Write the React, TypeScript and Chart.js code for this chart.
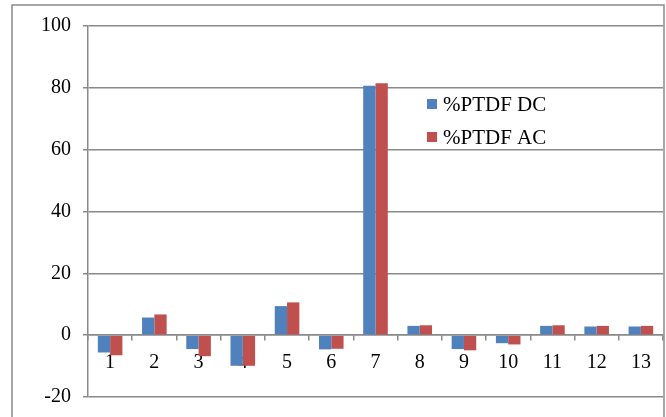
import React, { useEffect, useRef } from "react";
import { Chart, registerables } from "chart.js";

Chart.register(...registerables);

const categories = ["1", "2", "3", "4", "5", "6", "7", "8", "9", "10", "11", "12", "13"];
const ptdfDC = [-5.6, 5.7, -4.5, -9.9, 9.4, -4.6, 80.7, 3.0, -4.5, -2.6, 3.0, 2.8, 2.8];
const ptdfAC = [-6.5, 6.7, -6.8, -9.9, 10.6, -4.4, 81.5, 3.2, -4.9, -3.0, 3.2, 3.0, 3.0];
const seriesLabels = ["%PTDF DC", "%PTDF AC"];
const seriesColors = ["#4F81BD", "#C0504D"];

const FONT = "'Liberation Serif', 'Times New Roman', serif";

// Outer frame plus a legend drawn inside the plot area
const framePlugin = {
  id: "frameAndLegend",
  afterDraw(chart: any) {
    const ctx = chart.ctx as CanvasRenderingContext2D;
    ctx.save();
    ctx.strokeStyle = "#8a8a8a";
    ctx.lineWidth = 1.5;
    ctx.strokeRect(12, 5, 652, 430);

    ctx.font = `21px ${FONT}`;
    ctx.textBaseline = "middle";
    ctx.textAlign = "left";
    const rows = [104, 137];
    chart.data.datasets.forEach((ds: any, i: number) => {
      const y = rows[i];
      ctx.fillStyle = ds.backgroundColor;
      ctx.fillRect(427, y - 5, 10, 10);
      ctx.fillStyle = "#000";
      ctx.fillText(ds.label, 443, y + 1);
    });
    ctx.restore();
  },
};

export default function App() {
  const ref = useRef<HTMLCanvasElement>(null);

  useEffect(() => {
    if (!ref.current) return;
    const chart = new Chart(ref.current, {
      type: "bar",
      data: {
        labels: categories,
        datasets: [
          { label: seriesLabels[0], data: ptdfDC, backgroundColor: seriesColors[0] },
          { label: seriesLabels[1], data: ptdfAC, backgroundColor: seriesColors[1] },
        ],
      },
      options: {
        animation: false,
        responsive: false,
        maintainAspectRatio: false,
        layout: { autoPadding: false, padding: { left: 0, top: 26, right: 3, bottom: 20 } },
        datasets: {
          bar: { categoryPercentage: 0.556, barPercentage: 1.0, borderWidth: 0 },
        },
        plugins: {
          legend: { display: false },
          tooltip: { enabled: false },
        },
        scales: {
          x: {
            position: { y: 0 } as any,
            offset: true,
            z: 1,
            grid: {
              offset: true,
              drawOnChartArea: false,
              drawTicks: true,
              tickLength: 5,
              color: "#8a8a8a",
              lineWidth: 1.5,
            },
            border: { display: true, color: "#8a8a8a", width: 1.5 },
            ticks: {
              color: "#000",
              padding: 11,
              maxRotation: 0,
              autoSkip: false,
              font: { family: FONT, size: 20 },
            },
          },
          y: {
            min: -20,
            max: 100,
            afterFit(scale: any) {
              scale.width = 88;
            },
            grid: {
              color: "#8a8a8a",
              lineWidth: 1.5,
              drawTicks: true,
              tickLength: 5,
            },
            border: { display: true, color: "#8a8a8a", width: 1.5 },
            ticks: {
              stepSize: 20,
              color: "#000",
              padding: 12,
              font: { family: FONT, size: 20 },
            },
          },
        },
      },
      plugins: [framePlugin],
    });
    return () => chart.destroy();
  }, []);

  return (
    <div
      style={{
        position: "fixed",
        left: 0,
        top: 0,
        width: 666,
        height: 417,
        overflow: "hidden",
        background: "#fff",
      }}
    >
      <canvas ref={ref} width={666} height={421} style={{ display: "block" }} />
    </div>
  );
}
